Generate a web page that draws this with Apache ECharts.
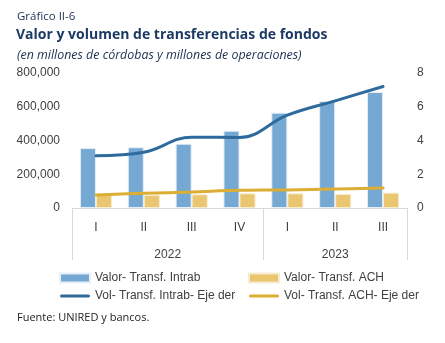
<!DOCTYPE html>
<html><head><meta charset="utf-8">
<script src="https://cdn.jsdelivr.net/npm/echarts@6/dist/echarts.min.js"></script>
<style>html,body{margin:0;padding:0;background:#fff}#c{width:445px;height:343px}</style>
</head><body><div id="c"></div>
<script>
const quarters = ['I','II','III','IV','I','II','III'];
const years = ['2022','2023'];
const yearSpan = [4,3];
const valorIntrab = [355000,360000,381000,458000,565000,634000,687000];
const valorACH = [83000,78000,81000,87000,87000,83000,91000];
const volIntrab = [3.1,3.3,4.2,4.18,5.5,6.35,7.2];
const volACH = [0.77,0.87,0.95,1.05,1.07,1.12,1.18];

const fontAx = 'Liberation Sans';
const txt = '#404040';
const yearCenters = [];
const bounds = [0];
let acc = 0;
yearSpan.forEach(s => { yearCenters.push(acc + s/2); acc += s; bounds.push(acc); });
const lineIcon = 'path://M1.5,0 L28.5,0 A1.5,1.5 0 0 1 28.5,3 L1.5,3 A1.5,1.5 0 0 1 1.5,0 Z';

const chart = echarts.init(document.getElementById('c'), null, {renderer:'canvas'});
chart.setOption({
  animation:false,
  title:[
    {text:'Gráfico II-6', left:17, top:11, padding:0, textStyle:{fontFamily:'Open Sans', fontSize:11.5, fontWeight:'normal', color:'#1a2f4f'}},
    {text:'Valor y volumen de transferencias de fondos', left:16, top:28, padding:0, textStyle:{fontFamily:'Open Sans', fontSize:14, fontWeight:'bold', color:'#1d3a63'}},
    {text:'(en millones de córdobas y millones de operaciones)', left:17, top:49, padding:0, textStyle:{fontFamily:'Open Sans', fontSize:12.4, fontStyle:'italic', fontWeight:'normal', color:'#1a2f4f'}},
    {text:'Fuente: UNIRED y bancos.', left:17, top:312, padding:0, textStyle:{fontFamily:'Open Sans', fontSize:11, fontWeight:'normal', color:'#222'}}
  ],
  grid:{left:72, right:38, top:73, bottom:135, containLabel:false},
  legend:[
    {orient:'vertical', left:59, top:272, padding:0, itemWidth:30, itemHeight:9, itemGap:6,
     data:[{name:'Valor- Transf. Intrab', icon:'rect'},{name:'Vol- Transf. Intrab- Eje der', icon:lineIcon}],
     textStyle:{fontFamily:fontAx, fontSize:12, color:txt}},
    {orient:'vertical', left:248, top:272, padding:0, itemWidth:30, itemHeight:9, itemGap:6,
     data:[{name:'Valor- Transf. ACH', icon:'rect'},{name:'Vol- Transf. ACH- Eje der', icon:lineIcon}],
     textStyle:{fontFamily:fontAx, fontSize:12, color:txt}}
  ],
  xAxis:[
    {type:'category', data:quarters, position:'bottom',
     axisLine:{show:true, lineStyle:{color:'#d9d9d9', width:1}},
     axisTick:{show:false},
     axisLabel:{fontFamily:fontAx, fontSize:12, color:txt, margin:14}},
    {type:'value', min:0, max:quarters.length, position:'bottom',
     axisLine:{show:false}, splitLine:{show:false},
     axisTick:{show:true, customValues:bounds, length:52, inside:false, lineStyle:{color:'#d9d9d9'}},
     axisLabel:{customValues:yearCenters, margin:41, fontFamily:fontAx, fontSize:12, color:txt,
       formatter:v => years[yearCenters.indexOf(v)]}}
  ],
  yAxis:[
    {type:'value', min:0, max:800000, interval:200000, position:'left',
     axisLine:{show:false}, axisTick:{show:false}, splitLine:{show:false},
     axisLabel:{fontFamily:fontAx, fontSize:12, color:txt, margin:12,
       formatter:v => v.toLocaleString('en-US')}},
    {type:'value', min:0, max:8, interval:2, position:'right',
     axisLine:{show:false}, axisTick:{show:false}, splitLine:{show:false},
     axisLabel:{fontFamily:fontAx, fontSize:12, color:txt, margin:10}}
  ],
  series:[
    {name:'Valor- Transf. Intrab', type:'bar', data:valorIntrab, barGap:'0%', barCategoryGap:'33%',
     itemStyle:{color:'#75a8d3', borderColor:'#e6eef6', borderWidth:1}},
    {name:'Valor- Transf. ACH', type:'bar', data:valorACH,
     itemStyle:{color:'#e9c66f', borderColor:'#f6ecd2', borderWidth:1}},
    {name:'Vol- Transf. Intrab- Eje der', type:'line', yAxisIndex:1, data:volIntrab, smooth:0.4,
     symbol:'none', lineStyle:{color:'#2e6a9c', width:3, cap:'round'}, itemStyle:{color:'#2e6a9c'}},
    {name:'Vol- Transf. ACH- Eje der', type:'line', yAxisIndex:1, data:volACH, smooth:0.4,
     symbol:'none', lineStyle:{color:'#dcae33', width:3, cap:'round'}, itemStyle:{color:'#dcae33'}}
  ]
});
</script></body></html>
